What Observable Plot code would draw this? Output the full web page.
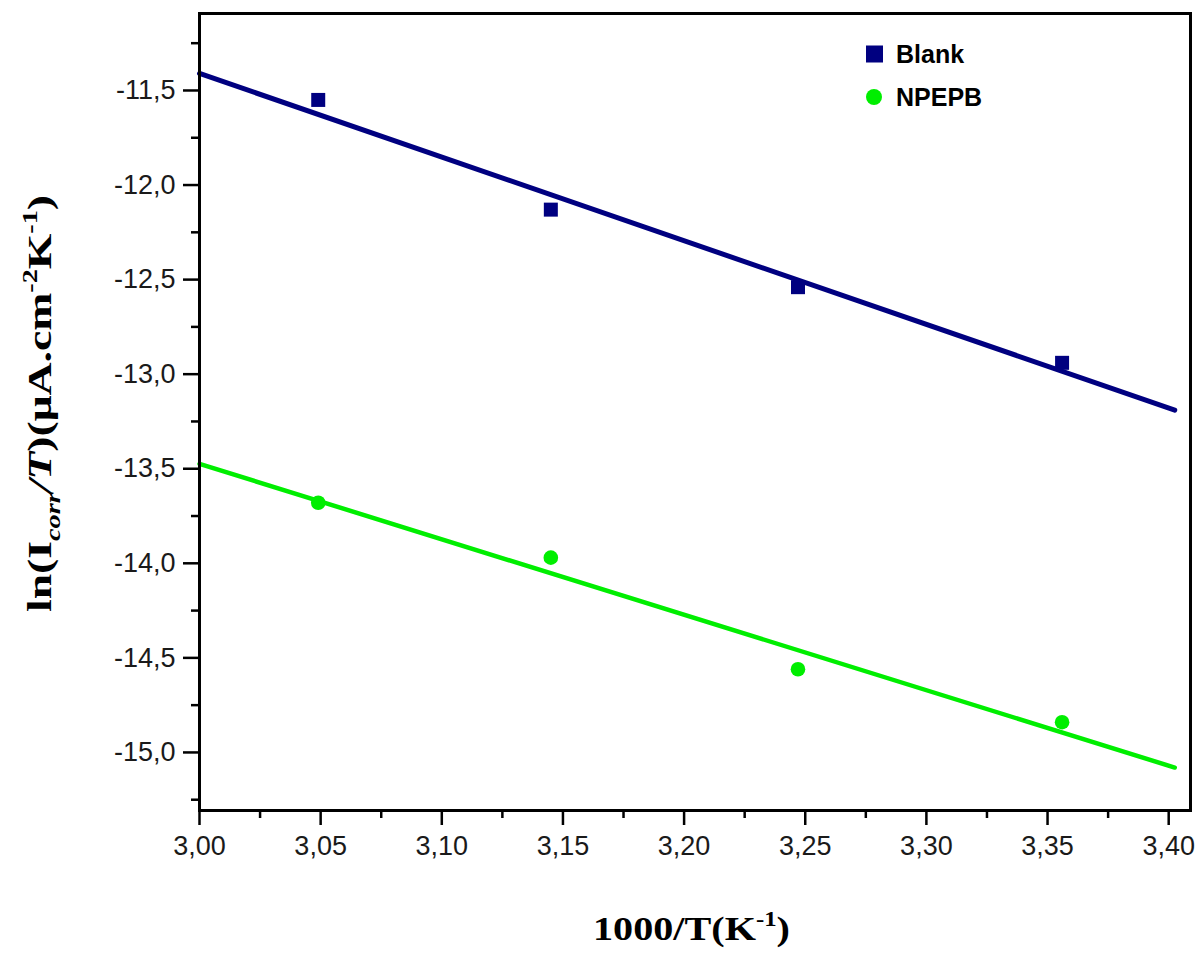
<!DOCTYPE html>
<html>
<head>
<meta charset="utf-8">
<script src="https://cdn.jsdelivr.net/npm/d3@7"></script>
<script src="https://cdn.jsdelivr.net/npm/@observablehq/plot@0.6"></script>
<style>
  html, body { margin: 0; padding: 0; background: #fff; }
  #chart svg { display: block; }
</style>
</head>
<body>
<div id="chart"></div>
<script>
// ---- data ----
const invT = [3.049, 3.145, 3.247, 3.356];
const blankY = [-11.55, -12.13, -12.54, -12.94];
const npepbY = [-13.68, -13.97, -14.56, -14.84];
const fitX = [3.0, 3.4025];
const blankFit = [-11.41, -13.19];
const npepbFit = [-13.474, -15.08];
const xMajorTicks = [3.00, 3.05, 3.10, 3.15, 3.20, 3.25, 3.30, 3.35, 3.40];
const xMinorTicks = [3.025, 3.075, 3.125, 3.175, 3.225, 3.275, 3.325, 3.375];
const yMajorTicks = [-11.5, -12.0, -12.5, -13.0, -13.5, -14.0, -14.5, -15.0];
const yMinorTicks = [-11.25, -11.75, -12.25, -12.75, -13.25, -13.75, -14.25, -14.75, -15.25];
const seriesNames = ["Blank", "NPEPB"];
const seriesColors = ["#000080", "#00ee00"];

const blankPts = invT.map((x, i) => ({x, y: blankY[i]}));
const npepbPts = invT.map((x, i) => ({x, y: npepbY[i]}));
const blankLine = fitX.map((x, i) => ({x, y: blankFit[i]}));
const npepbLine = fitX.map((x, i) => ({x, y: npepbFit[i]}));

const comma = (d, n) => d.toFixed(n).replace(".", ",");
const tickFont = {fontSize: 27, fill: "#1a1a1a"};

const chart = Plot.plot({
  width: 1196,
  height: 955,
  marginLeft: 199,
  marginRight: 6,
  marginTop: 13,
  marginBottom: 145,
  style: {fontFamily: "'Liberation Sans', Arial, sans-serif", background: "#fff"},
  x: {domain: [3.0, 3.409]},
  y: {domain: [-15.307, -11.093]},
  marks: [
    Plot.axisX({ticks: xMinorTicks, tickSize: 8, strokeWidth: 2.5, tickFormat: () => "", label: null}),
    Plot.axisX({ticks: xMajorTicks, tickSize: 15, strokeWidth: 2.5, tickPadding: 10, tickFormat: d => comma(d, 2), label: null, ...tickFont}),
    Plot.axisY({ticks: yMinorTicks, tickSize: 8, strokeWidth: 2.5, tickFormat: () => "", label: null}),
    Plot.axisY({ticks: yMajorTicks, tickSize: 16, strokeWidth: 2.5, tickPadding: 8, tickFormat: d => comma(d, 1), label: null, ...tickFont}),
    Plot.line(blankLine, {x: "x", y: "y", stroke: seriesColors[0], strokeWidth: 5}),
    Plot.line(npepbLine, {x: "x", y: "y", stroke: seriesColors[1], strokeWidth: 4.5}),
    Plot.dot(blankPts, {x: "x", y: "y", symbol: "square", r: 7.9, fill: seriesColors[0], stroke: "none"}),
    Plot.dot(npepbPts, {x: "x", y: "y", symbol: "circle", r: 7.3, fill: seriesColors[1], stroke: "none"}),
    Plot.frame({stroke: "#000", strokeWidth: 3})
  ]
});

const svg = d3.select(chart);

// legend
const leg = svg.append("g").attr("font-family", "'Liberation Sans', Arial, sans-serif")
  .attr("font-weight", "bold").attr("font-size", 25).attr("text-anchor", "start");
const legY = [54, 97];
leg.append("rect").attr("x", 866).attr("y", legY[0] - 8.5).attr("width", 17).attr("height", 17).attr("fill", seriesColors[0]);
leg.append("circle").attr("cx", 874).attr("cy", legY[1]).attr("r", 8).attr("fill", seriesColors[1]);
seriesNames.forEach((n, i) => {
  leg.append("text").attr("x", 896).attr("y", legY[i]).attr("dy", "0.36em").attr("fill", "#000").text(n);
});

// x title
const xt = svg.append("text")
  .attr("x", 593).attr("y", 940)
  .attr("text-anchor", "start")
  .attr("font-family", "'Liberation Serif', 'Times New Roman', serif")
  .attr("font-weight", "bold").attr("font-size", 34).attr("fill", "#000")
  .attr("textLength", 197).attr("lengthAdjust", "spacingAndGlyphs");
xt.append("tspan").text("1000/T(K");
xt.append("tspan").attr("dy", -14).attr("font-size", 21).text("-1");
xt.append("tspan").attr("dy", 14).text(")");

// y title
const yt = svg.append("text")
  .attr("transform", "translate(51,612) rotate(-90)")
  .attr("x", 0).attr("y", 0)
  .attr("text-anchor", "start")
  .attr("font-family", "'Liberation Serif', 'Times New Roman', serif")
  .attr("font-weight", "bold").attr("font-size", 34).attr("fill", "#000")
  .attr("textLength", 417).attr("lengthAdjust", "spacingAndGlyphs");
yt.append("tspan").text("ln(I");
yt.append("tspan").attr("dy", 9).attr("font-size", 21).attr("font-style", "italic").text("corr");
yt.append("tspan").attr("dy", -9).attr("font-style", "italic").text("/T");
yt.append("tspan").text(")(μA.cm");
yt.append("tspan").attr("dy", -14).attr("font-size", 21).text("-2");
yt.append("tspan").attr("dy", 14).text("K");
yt.append("tspan").attr("dy", -14).attr("font-size", 21).text("-1");
yt.append("tspan").attr("dy", 14).text(")");

document.getElementById("chart").appendChild(chart);
</script>
</body>
</html>
